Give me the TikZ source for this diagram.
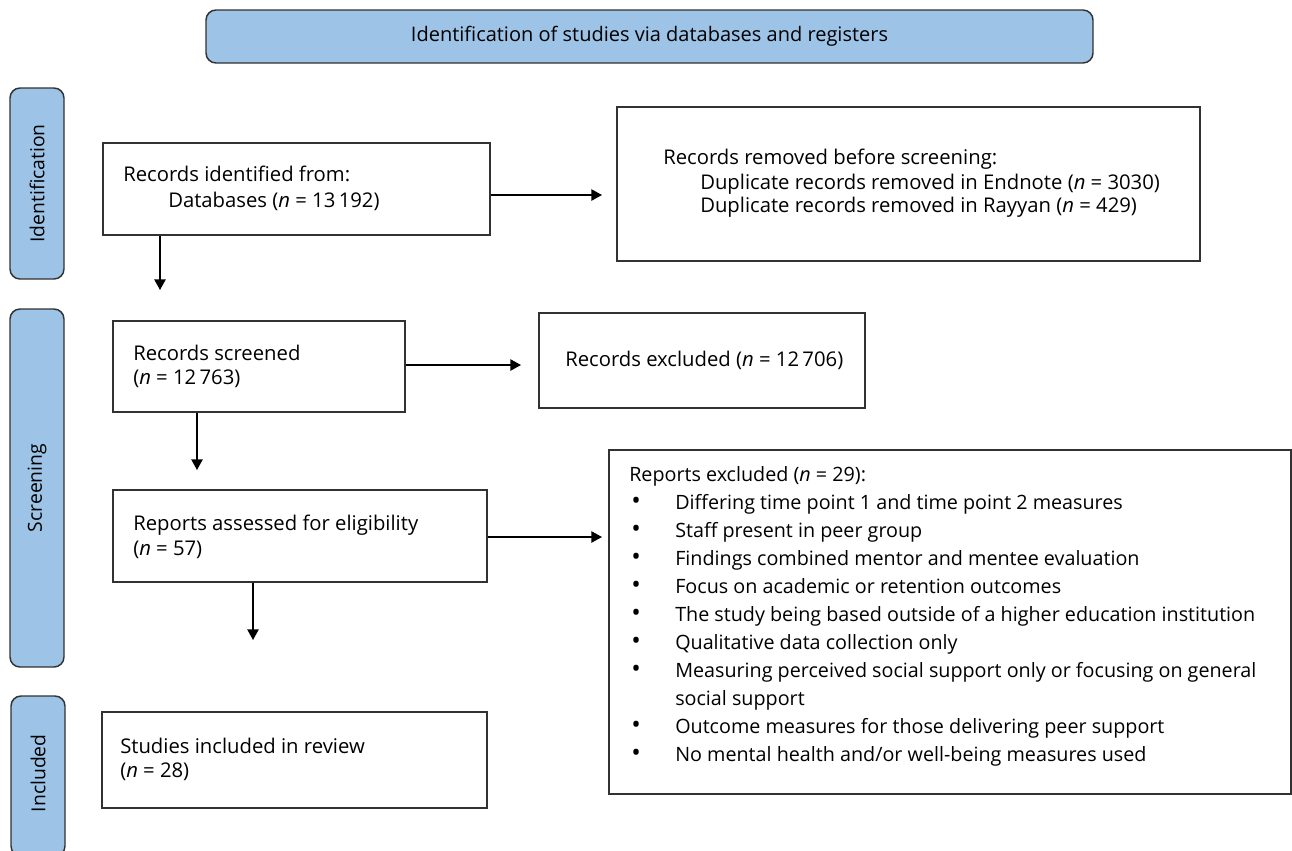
\documentclass[tikz,border=0pt]{standalone}
\usepackage{fontspec}
\setmainfont{Open Sans}
\newfontfamily\sidefont{Open Sans}
\usetikzlibrary{arrows.meta,fit}
\definecolor{barblue}{RGB}{157,195,230}
\definecolor{edge}{RGB}{50,50,50}
\tikzset{
  box/.style={draw=edge, line width=1.1pt, inner sep=0pt, fill=white},
  bar/.style={draw=edge, line width=1.1pt, inner sep=0pt, fill=barblue, rounded corners=7.5pt},
  txt/.style={anchor=west, inner sep=0pt, font=\fontsize{15.2}{21}\selectfont},
  sidelbl/.style={inner sep=0pt, rotate=90, font=\sidefont\fontsize{14.5}{17}\selectfont},
  arr/.style={draw=black, line width=1.1pt, -{Triangle[length=8pt,width=8.5pt]}}
}
\newcommand{\blt}{\hspace*{1.5pt}{\fontsize{19}{21}\selectfont •}}
\begin{document}
\begin{tikzpicture}[x=0.75pt,y=-0.75pt]
\useasboundingbox (0,0) rectangle (1292,850);
% header
\node[bar, fit={(206,10) (1093,63)}] (hdr) {};
\node[inner sep=0pt, font=\fontsize{15}{18}\selectfont] (hdrt) at (hdr.center) {Identification of studies via databases and registers};
% side bars
\node[bar, fit={(10,88) (64,279)}] (bid) {};
\node[sidelbl] (bidt) at (bid.center) {Identification};
\node[bar, fit={(10,309) (64,667)}] (bsc) {};
\node[sidelbl] (bsct) at (bsc.center) {Screening};
\node[bar, fit={(11,696) (65,856)}] (bin) {};
\node[sidelbl] (bint) at ([yshift=2pt]bin.center) {Included};
% boxes
\node[box, fit={(103,143) (490,235)}] (rid) {};
\node[txt] (rid1) at (123,174) {Records identified from:};
\node[txt] (rid2) at (168,201) {Databases (\textit{n} = 13\,192)};

\node[box, fit={(617,107) (1200,261)}] (rem) {};
\node[txt] (rem1) at (663,159) {Records removed before screening:};
\node[txt] (rem2) at (700,184) {Duplicate records removed in Endnote (\textit{n} = 3030)};
\node[txt] (rem3) at (700,207) {Duplicate records removed in Rayyan (\textit{n} = 429)};

\node[box, fit={(113,321) (405,412)}] (rsc) {};
\node[txt] (rsc1) at (133,353) {Records screened};
\node[txt] (rsc2) at (133,379) {(\textit{n} = 12\,763)};

\node[box, fit={(539,313) (865,408)}] (rex) {};
\node[txt] (rex1) at (565,360) {Records excluded (\textit{n} = 12\,706)};

\node[box, fit={(113,490) (487,582)}] (rep) {};
\node[txt] (rep1) at (133,525) {Reports assessed for eligibility};
\node[txt] (rep2) at (133,550) {(\textit{n} = 57)};

\node[box, fit={(609,450) (1291,794)}] (rpx) {};
\node[txt, anchor=north west, font=\fontsize{14.8}{21}\selectfont] (rpxt) at (629,462) {%
\begin{tabular}{@{}p{34.5pt}@{}l@{}}
\multicolumn{2}{@{}l@{}}{Reports excluded (\textit{n} = 29):}\\
\blt& Differing time point 1 and time point 2 measures\\
\blt& Staff present in peer group\\
\blt& Findings combined mentor and mentee evaluation\\
\blt& Focus on academic or retention outcomes\\
\blt& The study being based outside of a higher education institution\\
\blt& Qualitative data collection only\\
\blt& Measuring perceived social support only or focusing on general\\
& social support\\
\blt& Outcome measures for those delivering peer support\\
\blt& No mental health and/or well-being measures used
\end{tabular}};

\node[box, fit={(102,712) (487,808)}] (inc) {};
\node[txt] (inc1) at (120,746) {Studies included in review};
\node[txt] (inc2) at (120,772) {(\textit{n} = 28)};

% free arrow ends
\coordinate (e1) at (602,195);
\coordinate (e2) at (160,290);
\coordinate (e3) at (521,365);
\coordinate (e4) at (197,470);
\coordinate (e5) at (602,537);
\coordinate (e6) at (253,640);
\draw[arr] (rid.east |- e1) -- (e1);
\draw[arr] (rid.south -| e2) -- (e2);
\draw[arr] (rsc.east |- e3) -- (e3);
\draw[arr] (rsc.south -| e4) -- (e4);
\draw[arr] (rep.east |- e5) -- (e5);
\draw[arr] (rep.south -| e6) -- (e6);
\end{tikzpicture}
\end{document}
